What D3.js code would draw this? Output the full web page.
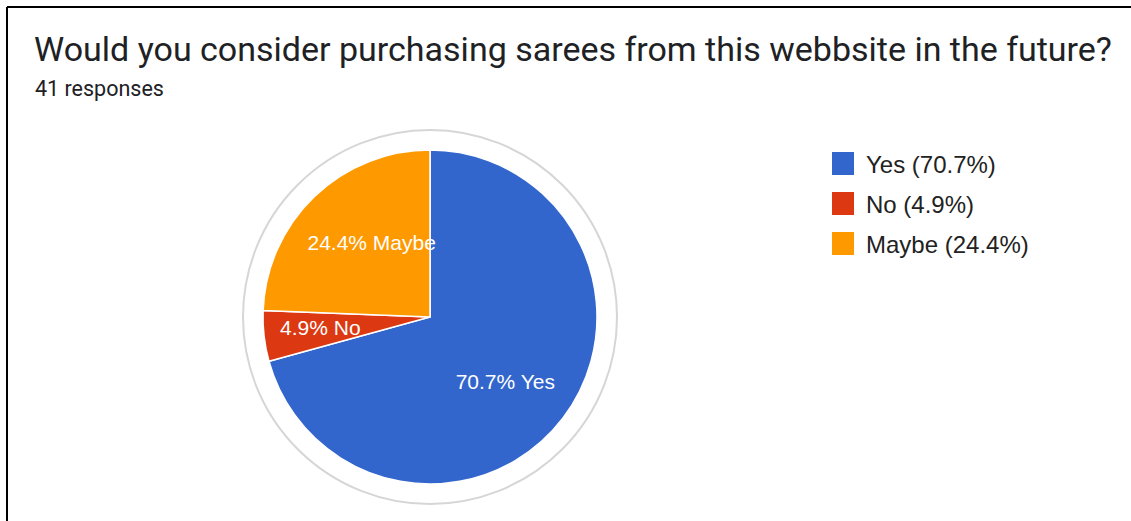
<!DOCTYPE html>
<html><head><meta charset="utf-8">
<script src="https://cdn.jsdelivr.net/npm/d3@7"></script>
<style>html,body{margin:0;padding:0;background:#fff;}svg{display:block;}</style>
</head><body>
<script>
const categories = ["Yes", "No", "Maybe"];
const values = [29, 2, 10];
const percentLabels = ["70.7%", "4.9%", "24.4%"];
const colors = ["#3366cc", "#dc3912", "#ff9900"];
const titleText = "Would you consider purchasing sarees from this webbsite in the future?";
const subtitleText = "41 responses";

const W = 1131, H = 521;
const svg = d3.select("body").append("svg").attr("width", W).attr("height", H);

// frame lines
svg.append("line").attr("x1", 7).attr("y1", 7).attr("x2", W).attr("y2", 7).attr("stroke", "#000").attr("stroke-width", 2);
svg.append("line").attr("x1", 7).attr("y1", 7).attr("x2", 7).attr("y2", H).attr("stroke", "#000").attr("stroke-width", 2);

svg.append("text").attr("x", 34).attr("y", 61).attr("font-family", "Roboto, 'Noto Sans', sans-serif")
  .attr("font-size", 34).attr("fill", "#202124").text(titleText);
svg.append("text").attr("x", 35).attr("y", 96).attr("font-family", "Roboto, 'Noto Sans', sans-serif")
  .attr("font-size", 21.5).attr("fill", "#202124").text(subtitleText);

const cx = 430, cy = 317, R = 167;
const g = svg.append("g").attr("transform", `translate(${cx},${cy})`);
g.append("circle").attr("r", R + 20).attr("fill", "none").attr("stroke", "#d6d6d6").attr("stroke-width", 2);

const pie = d3.pie().sort(null).value(d => d)(values);
const arc = d3.arc().innerRadius(0).outerRadius(R);
g.selectAll("path.slice").data(pie).join("path").attr("class", "slice")
  .attr("d", arc).attr("fill", (d, i) => colors[i]).attr("stroke", "#fff").attr("stroke-width", 1.5);

// labels (radius factor and angular nudge per slice)
const labelK = [1.19, 1.32, 1.13];
const labelNudge = [0.06, 0.02, 0.10];
g.selectAll("text.lbl").data(pie).join("text").attr("class", "lbl")
  .attr("transform", (d, i) => {
    const a = (d.startAngle + d.endAngle) / 2 + labelNudge[i];
    const r = R * labelK[i] / 2;
    return `translate(${r * Math.sin(a)},${-r * Math.cos(a)})`;
  })
  .attr("text-anchor", "middle").attr("dy", "0.35em")
  .attr("font-family", "Arial, 'Liberation Sans', sans-serif").attr("font-size", 21).attr("fill", "#fff")
  .text((d, i) => `${percentLabels[i]} ${categories[i]}`);

// legend
const lg = svg.append("g").attr("transform", "translate(832,152)");
const rows = lg.selectAll("g").data(categories).join("g").attr("transform", (d, i) => `translate(0,${i * 40})`);
rows.append("rect").attr("width", 22).attr("height", 23).attr("fill", (d, i) => colors[i]);
rows.append("text").attr("x", 34).attr("y", 21)
  .attr("font-family", "Arial, 'Liberation Sans', sans-serif").attr("font-size", 24).attr("fill", "#222")
  .text((d, i) => `${d} (${percentLabels[i]})`);
</script>
</body></html>
